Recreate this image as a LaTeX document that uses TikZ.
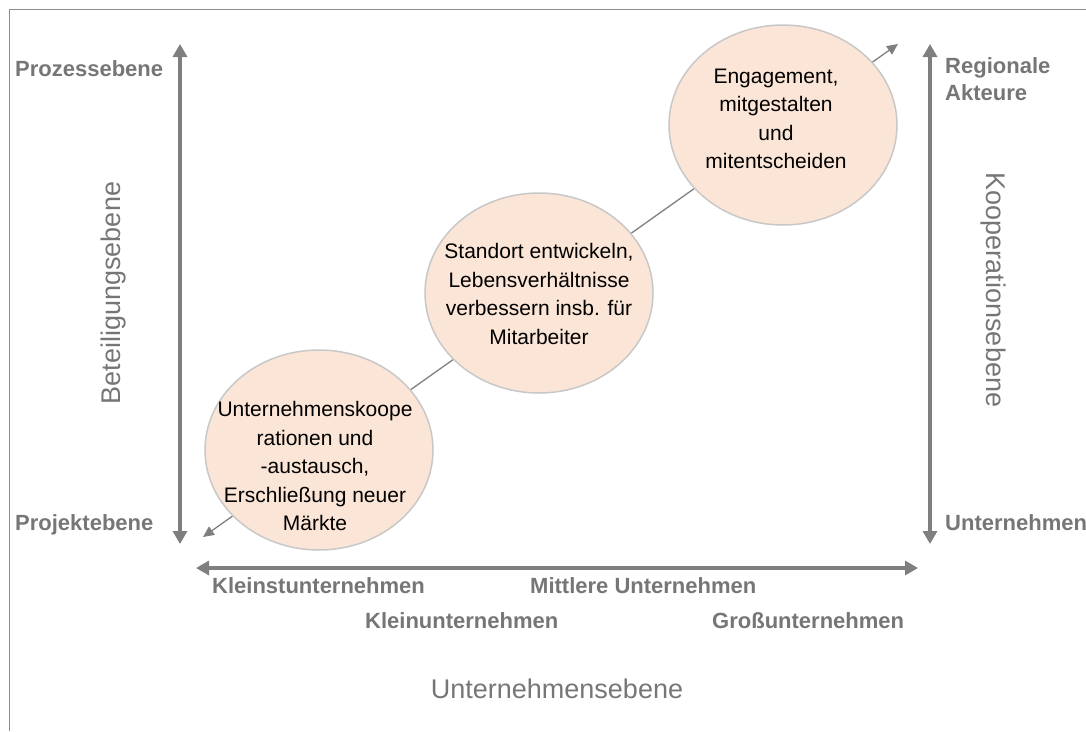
\documentclass[tikz,border=0pt]{standalone}
\usepackage{fontspec}
\setmainfont{Liberation Sans}
\usetikzlibrary{arrows.meta,shapes.geometric}

\definecolor{axisgray}{HTML}{7F7F7F}
\definecolor{framegray}{HTML}{8C8C8C}
\definecolor{bubblefill}{HTML}{FBE5D6}
\definecolor{bubbleedge}{HTML}{C8C8C8}
\definecolor{labelgray}{HTML}{767676}

\begin{document}
\begin{tikzpicture}[x=1pt,y=-1pt,
  axis/.style={draw=axisgray, line width=4.5pt,
    {Triangle[length=13pt,width=14pt]}-{Triangle[length=13pt,width=14pt]}},
  trend/.style={draw=axisgray, line width=1.3pt,
    {Triangle[length=11pt,width=10pt]}-{Triangle[length=11pt,width=10pt]}},
  bubble/.style={ellipse, draw=bubbleedge, line width=1.5pt, fill=bubblefill,
    minimum width=228pt, minimum height=200pt, inner sep=0pt},
  bubbletext/.style={align=center, text=black,
    font=\fontsize{21}{28.5}\selectfont, inner sep=0pt},
  endlabel/.style={text=labelgray, font=\fontsize{22}{27}\selectfont\bfseries,
    inner sep=0pt},
  axistitle/.style={text=labelgray, font=\fontsize{27}{32}\selectfont,
    inner sep=0pt},
  frameline/.style={draw=framegray, line width=1.5pt},
]
\useasboundingbox (0,0) rectangle (1086,731);

% open frame: top and left edges only
\coordinate (fTL) at (9.5,9.5);
\coordinate (fTR) at (1086,9.5);
\coordinate (fBL) at (9.5,731);
\draw[frameline] (fBL) -- (fTL) -- (fTR);

% axis end points
\coordinate (lTop) at (180,44);
\coordinate (lBot) at (180,544);
\coordinate (rTop) at (930,44);
\coordinate (rBot) at (930,544);
\coordinate (hL) at (196,568);
\coordinate (hR) at (918,568);

\draw[axis] (lBot) -- (lTop);
\draw[axis] (rBot) -- (rTop);
\draw[axis] (hL) -- (hR);

% trend line behind the bubbles
\coordinate (tLow) at (203,537);
\coordinate (tHigh) at (898,44);
\draw[trend] (tLow) -- (tHigh);

% bubbles
\node[bubble] (b1) at (319,450) {};
\node[bubble] (b2) at (539,293) {};
\node[bubble] (b3) at (783,125) {};

\node[bubbletext] (t1) at (315,466)
  {Unternehmenskoope\\rationen und\\-austausch,\\Erschließung neuer\\Märkte};
\node[bubbletext] (t2) at (539,294)
  {Standort entwickeln,\\Lebensverhältnisse\\verbessern insb. für\\Mitarbeiter};
\node[bubbletext] (t3) at (776,119)
  {Engagement,\\mitgestalten\\und\\mitentscheiden};

% vertical axis labels (left)
\node[endlabel, anchor=base west] (proz) at (15,76) {Prozessebene};
\node[endlabel, anchor=base west] (proj) at (15,530) {Projektebene};
\node[axistitle, rotate=90] (beteil) at (114,293) {Beteiligungsebene};

% vertical axis labels (right)
\node[endlabel, anchor=base west] (reg) at (945,73) {Regionale};
\node[endlabel, anchor=base west] (akt) at (945,100) {Akteure};
\node[endlabel, anchor=base west] (unt) at (945,530) {Unternehmen};
\node[axistitle, rotate=-90] (koop) at (993,290) {Kooperationsebene};

% horizontal axis labels
\node[endlabel, anchor=base west] (kleinst) at (212,593) {Kleinstunternehmen};
\node[endlabel, anchor=base west] (mittel) at (530,593) {Mittlere Unternehmen};
\node[endlabel, anchor=base west] (klein) at (365,628) {Kleinunternehmen};
\node[endlabel, anchor=base west] (gross) at (712,628) {Großunternehmen};
\node[axistitle, anchor=base] (uebene) at (557,698) {Unternehmensebene};

\end{tikzpicture}
\end{document}
